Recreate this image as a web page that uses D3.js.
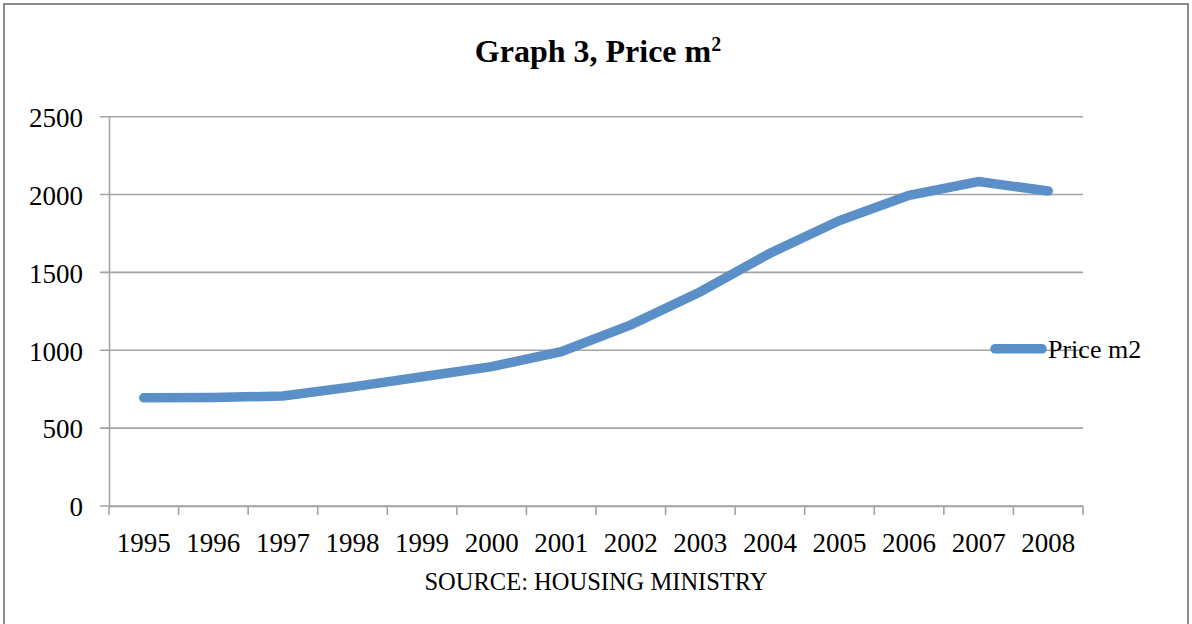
<!DOCTYPE html>
<html>
<head>
<meta charset="utf-8">
<script src="https://cdn.jsdelivr.net/npm/d3@7"></script>
<style>
  html, body { margin: 0; padding: 0; background: #fff; }
  svg { display: block; }
  text { font-family: "Liberation Serif", "Times New Roman", serif; fill: #000; }
</style>
</head>
<body>
<svg id="chart" width="1192" height="624"></svg>
<script>
const years = ["1995","1996","1997","1998","1999","2000","2001","2002","2003","2004","2005","2006","2007","2008"];
const prices = [695, 697, 706, 765, 830, 895, 991, 1163, 1376, 1623, 1833, 1995, 2083, 2023];
const yTicks = [0, 500, 1000, 1500, 2000, 2500];
const titleMain = "Graph 3, Price m";
const titleSup = "2";
const seriesName = "Price m2";
const sourceText = "SOURCE: HOUSING MINISTRY";

const svg = d3.select("#chart");
const W = 1192, H = 624;
const m = { left: 109, right: 1083, top: 116.7, bottom: 506 };

// outer frame
svg.append("rect").attr("x", 4).attr("y", 4).attr("width", W - 8).attr("height", H + 10)
  .attr("fill", "none").attr("stroke", "#8c8c8c").attr("stroke-width", 2);

const x = d3.scaleBand().domain(years).range([m.left, m.right]).padding(0);
const y = d3.scaleLinear().domain([0, 2500]).range([m.bottom, m.top]);

// gridlines
svg.append("g").selectAll("line").data(yTicks).join("line")
  .attr("x1", m.left - 9).attr("x2", m.right)
  .attr("y1", d => y(d)).attr("y2", d => y(d))
  .attr("stroke", "#a3a3a3").attr("stroke-width", 1.6);

// y axis
const yAxis = svg.append("g").attr("transform", `translate(${m.left},0)`)
  .call(d3.axisLeft(y).tickValues(yTicks).tickFormat(d3.format("d")).tickSize(0).tickPadding(26));
yAxis.select(".domain").attr("stroke", "#a3a3a3").attr("stroke-width", 1.6);
yAxis.selectAll("text").style("font-size", "27px").attr("dy", "0.36em");

// x axis
const xAxis = svg.append("g").attr("transform", `translate(0,${m.bottom})`)
  .call(d3.axisBottom(x).tickSize(0).tickPadding(27));
xAxis.select(".domain").attr("stroke", "#a3a3a3").attr("stroke-width", 1.6);
xAxis.selectAll("text").style("font-size", "27px");
const bounds = years.map(d => x(d)).concat([m.right]);
xAxis.append("g").selectAll("line").data(bounds).join("line")
  .attr("x1", d => d).attr("x2", d => d).attr("y1", 0).attr("y2", 9)
  .attr("stroke", "#a3a3a3").attr("stroke-width", 1.6);

// line
const line = d3.line()
  .x((d, i) => x(years[i]) + x.bandwidth() / 2)
  .y(d => y(d));
svg.append("path").datum(prices)
  .attr("d", line)
  .attr("fill", "none")
  .attr("stroke", "#5b8fc8")
  .attr("stroke-width", 9.5)
  .attr("stroke-linecap", "round")
  .attr("stroke-linejoin", "miter");

// title
const title = svg.append("text").attr("x", 598).attr("y", 62).attr("text-anchor", "middle")
  .style("font-size", "32px").style("font-weight", "bold");
title.append("tspan").text(titleMain);
title.append("tspan").text(titleSup).attr("dy", -11).style("font-size", "20px");

// legend
svg.append("line").attr("x1", 995).attr("x2", 1042).attr("y1", y(1000) - 1.5).attr("y2", y(1000) - 1.5)
  .attr("stroke", "#5b8fc8").attr("stroke-width", 9.5).attr("stroke-linecap", "round");
svg.append("text").attr("x", 1048).attr("y", 358).style("font-size", "26px").text(seriesName);

// source
svg.append("text").attr("x", 596).attr("y", 590).attr("text-anchor", "middle")
  .style("font-size", "24.5px").text(sourceText);
</script>
</body>
</html>
